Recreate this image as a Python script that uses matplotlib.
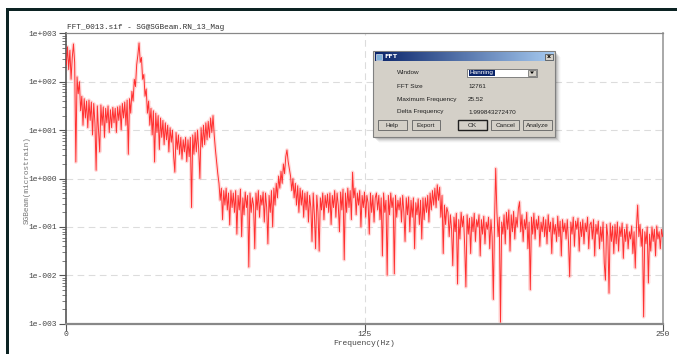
import numpy as np
import matplotlib.pyplot as plt
from matplotlib.patches import Rectangle
from matplotlib.ticker import LogLocator, FixedLocator

W, H = 677, 354

# FFT magnitude, log10(microstrain), one row per 10 Hz, bins every 0.5 Hz
df = 0.5
log_mag = [
    [2.35, 2.72, 2.25, 2.65, 2.05, 2.50, 2.78, 2.40, 0.34, 2.10, 1.75, 2.00, 1.40, 1.70, 1.10, 1.65, 1.25, 1.60, 1.05, 1.62],
    [1.20, 1.58, 0.90, 1.55, 1.15, 0.17, 1.50, 1.00, 0.55, 1.52, 1.10, 1.48, 0.85, 1.45, 1.15, 1.50, 0.95, 1.42, 1.05, 1.47],
    [1.15, 1.45, 0.95, 1.48, 1.20, 1.50, 1.00, 1.55, 1.25, 1.58, 1.10, 1.62, 0.50, 1.65, 1.35, 1.80, 1.60, 2.05, 1.90, 2.35],
    [2.55, 2.80, 2.40, 2.50, 2.05, 2.15, 1.70, 1.85, 1.35, 1.60, 1.10, 1.45, 0.90, 1.40, 0.34, 1.35, 0.95, 1.30, 0.60, 1.25],
    [0.85, 1.20, 0.70, 1.15, 0.80, 1.10, 0.55, 1.05, 0.75, 1.00, 0.45, 0.13, 0.95, 0.60, 0.90, 0.50, 0.85, 0.40, 0.80, 0.55],
    [0.85, 0.35, 0.80, 0.45, 0.85, -0.60, 0.90, 0.50, 0.95, 0.55, 1.00, 0.60, 0.00, 1.05, 0.65, 1.10, 0.70, 1.15, 0.80, 1.18],
    [0.85, 1.25, 0.95, 1.30, 0.90, 0.60, 0.35, 0.10, -0.10, -0.45, -0.20, -0.85, -0.25, -0.55, -0.20, -0.65, -0.30, -0.96, -0.25, -0.60],
    [-0.30, -0.70, -0.25, -1.15, -0.35, -0.65, -0.22, -1.20, -0.40, -0.75, -0.28, -0.60, -0.35, -1.83, -0.30, -0.70, -0.40, -0.55, -1.45, -0.30],
    [-0.65, -0.25, -0.80, -0.35, -0.55, -0.28, -0.90, -0.30, -0.60, -1.35, -0.35, -0.70, -0.25, -1.00, -0.20, -0.55, -0.10, -0.40, 0.05, -0.20],
    [0.15, -0.10, 0.30, 0.10, 0.45, 0.59, 0.35, 0.20, 0.05, -0.25, 0.00, -0.40, -0.10, -0.55, -0.15, -0.70, -0.20, -0.55, -0.25, -0.80],
    [-0.30, -0.65, -0.28, -0.90, -0.35, -0.60, -1.30, -0.30, -0.75, -1.45, -0.35, -0.70, -1.50, -0.40, -0.65, -0.30, -0.85, -0.35, -0.60, -0.32],
    [-0.70, -0.30, -0.95, -0.35, -0.60, -0.25, -0.80, -0.30, -0.55, -1.10, -0.28, -0.65, -0.22, -1.68, -0.30, -0.70, -0.20, -0.60, -0.25, -0.85],
    [0.13, -0.40, -0.20, -0.75, -0.30, -0.55, -0.25, -1.00, -0.35, -0.60, -0.28, -0.80, -0.35, -0.50, -1.15, -0.30, -0.70, -0.35, -0.90, -0.40],
    [-0.30, -0.65, -0.35, -0.85, -0.40, -1.60, -0.30, -0.70, -0.45, -2.00, -0.35, -0.75, -0.30, -0.60, -0.40, -1.97, -0.35, -0.80, -0.45, -0.65],
    [-0.40, -0.90, -0.35, -0.70, -1.30, -0.40, -0.75, -0.38, -1.10, -0.45, -0.80, -0.40, -1.45, -0.50, -0.75, -0.42, -0.95, -0.45, -1.25, -0.40],
    [-0.85, -0.40, -0.70, -0.35, -0.90, -0.30, -0.65, -0.25, -0.55, -0.20, -0.60, -0.13, -0.45, -0.18, -0.80, -0.35, -1.55, -0.55, -0.95, -0.60],
    [-0.70, -1.20, -0.75, -1.05, -1.80, -0.80, -1.10, -0.72, -2.18, -0.85, -1.25, -0.70, -1.00, -0.78, -1.40, -2.24, -0.75, -1.15, -0.82, -1.55],
    [-0.80, -1.10, -0.72, -1.30, -0.85, -1.00, -0.75, -1.60, -0.85, -1.15, -0.78, -1.35, -0.90, -1.05, -0.80, -1.45, -0.85, -1.20, -2.50, -0.90],
    [0.21, -0.70, -1.20, -0.80, -2.97, -0.90, -1.15, -0.75, -1.35, -0.70, -1.05, -0.65, -1.50, -0.75, -1.10, -0.68, -1.25, -0.80, -1.00, -0.62],
    [-0.48, -1.10, -0.75, -1.30, -0.85, -1.05, -0.70, -1.45, -0.90, -2.30, -0.80, -1.15, -0.72, -1.25, -0.85, -1.05, -0.78, -1.40, -0.90, -1.10],
    [-0.80, -1.20, -0.85, -1.35, -0.75, -1.10, -0.90, -1.55, -0.82, -1.15, -0.95, -1.30, -0.78, -1.20, -0.88, -1.60, -0.85, -1.10, -0.92, -1.25],
    [-0.85, -1.30, -2.03, -0.90, -1.15, -0.80, -1.40, -0.88, -1.05, -0.82, -1.50, -0.90, -1.20, -0.85, -1.35, -0.92, -1.10, -0.80, -1.45, -0.95],
    [-0.90, -1.25, -0.85, -1.60, -0.95, -1.15, -0.88, -1.45, -1.00, -1.30, -0.90, -1.75, -2.10, -0.95, -1.20, -2.37, -0.92, -1.30, -0.98, -1.55],
    [-0.95, -1.35, -0.90, -1.50, -1.00, -1.20, -0.92, -1.65, -1.05, -1.30, -0.95, -1.45, -1.10, -1.25, -0.98, -1.55, -1.10, -1.85, -1.00, -0.55],
    [-1.20, -0.95, -1.40, -1.05, -2.86, -1.10, -1.35, -1.00, -2.16, -1.15, -1.50, -1.00, -1.30, -1.05, -1.60, -0.98, -1.25, -1.10, -1.45, -1.05],
    [-1.20],
]

title = "FFT_0013.sif - SG@SGBeam.RN_13_Mag"
y_label = "SGBeam(microstrain)"
x_label = "Frequency(Hz)"
x_ticks = [0, 125, 250]
y_ticks = [1e-3, 1e-2, 1e-1, 1e0, 1e1, 1e2, 1e3]
y_tick_labels = ["1e-003", "1e-002", "1e-001", "1e+000", "1e+001", "1e+002", "1e+003"]

# dialog contents
dlg_rows = [("FFT Size", "12761"),
            ("Maximum Frequency", "25.52"),
            ("Delta Frequency", "1.999843272470")]
dlg_buttons = [("Help", 378, 407), ("Export", 412, 440), ("OK", 458, 487),
               ("Cancel", 491, 519), ("Analyze", 523, 552)]

mag = 10 ** np.concatenate([np.array(r) for r in log_mag])
freq = np.arange(len(mag)) * df

mono = "Liberation Mono"
fig = plt.figure(figsize=(W / 100, H / 100), dpi=100)
fig.patch.set_facecolor("white")

x0, x1, y0, y1 = 66.3, 662.7, 33.3, 323.7
ax = fig.add_axes([x0 / W, 1 - y1 / H, (x1 - x0) / W, (y1 - y0) / H])
ax.set_yscale("log")
ax.set_xlim(0, 250)
ax.set_ylim(1e-3, 1e3)

ax.plot(freq, mag, color="#ff8a8a", lw=2.6, alpha=0.3, zorder=2)
ax.plot(freq, mag, color="#ff1e1e", lw=0.7, alpha=0.9, zorder=3)

for v in y_ticks[1:-1]:
    ax.axhline(v, color="#dcdcdc", lw=0.8, dashes=(6, 4), zorder=1)
ax.axvline(125, color="#dcdcdc", lw=0.8, dashes=(6, 4), zorder=1)

ax.yaxis.set_major_locator(FixedLocator(y_ticks))
ax.yaxis.set_minor_locator(LogLocator(base=10, subs=np.arange(2, 10)))
ax.set_yticklabels(y_tick_labels)
ax.set_xticks(x_ticks)
ax.set_xticklabels([str(t) for t in x_ticks])
ax.tick_params(axis="both", which="major", direction="out", length=5, width=0.8,
               color="#555555", labelsize=5.8, labelcolor="#444444", pad=1.5)
ax.tick_params(axis="x", which="major", pad=0.5)
ax.tick_params(axis="y", which="minor", direction="out", length=3, width=0.6, color="#666666")
for lab in ax.get_xticklabels() + ax.get_yticklabels():
    lab.set_fontfamily(mono)

ax.spines["left"].set_color("#555555")
ax.spines["left"].set_linewidth(1.2)
ax.spines["bottom"].set_color("#888888")
ax.spines["bottom"].set_linewidth(1.6)
ax.spines["top"].set_color("#888888")
ax.spines["top"].set_linewidth(0.9)
ax.spines["right"].set_color("#999999")
ax.spines["right"].set_linewidth(1.2)

# overlay in pixel coordinates for text, frame and dialog
ov = fig.add_axes([0, 0, 1, 1], zorder=10)
ov.set_xlim(0, W)
ov.set_ylim(H, 0)
ov.axis("off")
ov.patch.set_alpha(0)

ov.text(x0 + 1, 31, title, fontsize=5.6, family=mono, color="#333333", ha="left", va="bottom")
ov.text(27, 180, y_label, fontsize=5.6, family=mono, color="#777777", rotation=90,
        ha="center", va="center")
ov.text(364, 343.5, x_label, fontsize=5.8, family=mono, color="#444444", ha="center", va="center")

# dark frame on top and left
ov.add_patch(Rectangle((6, 8), W - 6, 3, color="#0c2323", lw=0))
ov.add_patch(Rectangle((6, 8), 3, H - 8, color="#0c2323", lw=0))

# dialog window
dx0, dx1, dy0, dy1 = 373, 555, 51, 137
for k, a in enumerate([0.10, 0.08, 0.06, 0.04, 0.02]):
    ov.add_patch(Rectangle((dx0 + 2 + k, dy0 + 2 + k), dx1 - dx0, dy1 - dy0,
                           color="#000000", alpha=a, lw=0))
ov.add_patch(Rectangle((dx0, dy0), dx1 - dx0, dy1 - dy0, facecolor="#d4d0c8",
                       edgecolor="#808080", lw=0.8))
grad = np.linspace(0, 1, 256)[None, :]
blue = np.array([10, 36, 106]) / 255
light = np.array([166, 202, 240]) / 255
bar = blue[None, None, :] * (1 - grad[..., None]) + light[None, None, :] * grad[..., None]
ov.imshow(bar, extent=(dx0 + 1.5, dx1 - 1.5, dy0 + 10, dy0 + 1.5), aspect="auto", zorder=3)
ov.add_patch(Rectangle((dx0 + 3, dy0 + 3), 6, 5.5, facecolor="#7fb0d8", edgecolor="#ffffff",
                       lw=0.4, zorder=4))
ov.text(dx0 + 11, dy0 + 6, "FFT", fontsize=4.6, color="white", weight="bold",
        ha="left", va="center", zorder=4)
ov.add_patch(Rectangle((dx1 - 10, dy0 + 3), 7.5, 6, facecolor="#d4d0c8", edgecolor="#404040",
                       lw=0.5, zorder=4))
ov.text(dx1 - 6.2, dy0 + 6, "x", fontsize=4.5, color="black", weight="bold",
        ha="center", va="center", zorder=5)

dlg_font = dict(fontsize=4.6, family="Liberation Sans", color="#202020", va="center", zorder=5)
ov.text(397, 72, "Window", ha="left", **dlg_font)
ov.add_patch(Rectangle((467, 68.5), 70, 8.5, facecolor="white", edgecolor="#707070", lw=0.6, zorder=4))
ov.add_patch(Rectangle((469, 70), 26, 5.5, facecolor="#0a246a", lw=0, zorder=5))
ov.text(470, 72.8, "Hanning", fontsize=4.6, family="Liberation Sans", color="white",
        ha="left", va="center", zorder=6)
ov.add_patch(Rectangle((528, 69.5), 8, 6.5, facecolor="#d4d0c8", edgecolor="#606060", lw=0.5, zorder=5))
ov.add_patch(plt.Polygon([[530, 71.5], [534, 71.5], [532, 74]], color="black", lw=0, zorder=6))

for i, (lab, val) in enumerate(dlg_rows):
    yy = 87 + i * 12.5
    ov.text(397, yy, lab, ha="left", **dlg_font)
    ov.text(468, yy, val, ha="left", **dlg_font)

for lab, bx0, bx1 in dlg_buttons:
    ed = "#202020" if lab == "OK" else "#606060"
    lw = 1.0 if lab == "OK" else 0.6
    ov.add_patch(Rectangle((bx0, 120), bx1 - bx0, 10, facecolor="#d4d0c8", edgecolor=ed, lw=lw, zorder=4))
    ov.text((bx0 + bx1) / 2, 125.2, lab, ha="center", **dlg_font)

fig.savefig("out.png", dpi=100)
